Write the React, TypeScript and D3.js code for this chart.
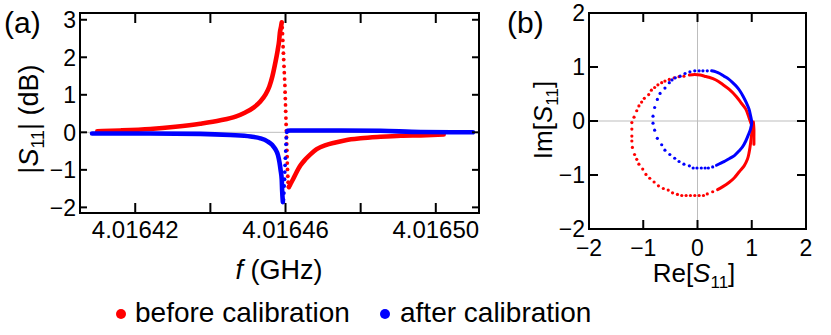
import React from 'react';
import * as d3 from 'd3';

// ---- panel (a): |S11| (dB) against f (GHz) ----
// dense part below resonance
const beforeLow: [number, number][] = [
  [4.0164099, 0.03], [4.016416, 0.05], [4.016424, 0.09], [4.0164307, 0.15],
  [4.0164373, 0.23], [4.0164427, 0.32], [4.0164467, 0.42], [4.0164493, 0.53],
  [4.0164515, 0.66], [4.0164533, 0.82], [4.0164547, 1.01], [4.0164557, 1.22],
  [4.0164565, 1.49], [4.0164573, 1.86], [4.0164579, 2.18], [4.0164583, 2.44],
  [4.0164585, 2.65], [4.0164588, 2.81], [4.016459, 2.93],
];
// sparse points across the resonance
const beforeJump: [number, number][] = [
  [4.01645912, 2.79], [4.0164592, 2.63], [4.01645928, 2.45], [4.01645936, 2.28],
  [4.01645944, 2.11], [4.01645952, 1.94], [4.0164596, 1.76], [4.01645968, 1.59],
  [4.01645976, 1.42], [4.01645984, 1.25], [4.01645989, 1.07], [4.01645995, 0.9],
  [4.01646, 0.73], [4.01646005, 0.56], [4.01646011, 0.38], [4.01646016, 0.21],
  [4.01646021, 0.04], [4.01646027, -0.13], [4.01646032, -0.31], [4.01646037, -0.48],
  [4.01646043, -0.65], [4.01646048, -0.82], [4.01646053, -0.99], [4.01646061, -1.17],
  [4.01646069, -1.33], [4.0164608, -1.45],
];
const beforeHigh: [number, number][] = [
  [4.0164609, -1.46], [4.0164613, -1.38], [4.0164619, -1.27], [4.0164627, -1.11],
  [4.016464, -0.88], [4.0164653, -0.72], [4.0164667, -0.58], [4.0164683, -0.45],
  [4.0164707, -0.34], [4.0164733, -0.27], [4.016476, -0.21], [4.01648, -0.16],
  [4.0164853, -0.12], [4.0164907, -0.09], [4.016496, -0.08], [4.0165021, -0.06],
];

const afterLow: [number, number][] = [
  [4.0164085, -0.03], [4.016424, -0.03], [4.0164373, -0.04], [4.0164453, -0.07],
  [4.0164507, -0.11], [4.0164533, -0.16], [4.0164552, -0.24], [4.0164565, -0.34],
  [4.0164573, -0.45], [4.016458, -0.61], [4.0164584, -0.8], [4.0164587, -1.01],
  [4.016459, -1.27], [4.0164591, -1.54], [4.0164593, -1.86],
];
const afterJump: [number, number][] = [
  [4.01645947, -1.8], [4.01645957, -1.62], [4.01645965, -1.43], [4.01645973, -1.25],
  [4.01645981, -1.06], [4.01645989, -0.88], [4.01645997, -0.69], [4.01646005, -0.5],
  [4.01646013, -0.32], [4.01646021, -0.15], [4.01646035, 0.0],
];
const afterHigh: [number, number][] = [
  [4.0164605, 0.04], [4.0164613, 0.05], [4.016464, 0.05], [4.0164747, 0.05],
  [4.0164853, 0.04], [4.016496, 0.01], [4.0165099, 0.0],
];

const freqTicks = [4.01642, 4.01644, 4.01646, 4.01648, 4.0165];
const freqLabels = ['4.01642', '', '4.01646', '', '4.01650'];
const dbTicks = [-2, -1, 0, 1, 2, 3];

// ---- panel (b): Im[S11] against Re[S11] ----
const beforeArc: [number, number][] = [
  [-0.15, 0.85], [-0.05, 0.86], [0.05, 0.85], [0.13, 0.83], [0.21, 0.81],
  [0.34, 0.76], [0.46, 0.68], [0.58, 0.59], [0.71, 0.46], [0.8, 0.34],
  [0.89, 0.22], [0.95, 0.06], [0.98, -0.03], [1.0, -0.09], [1.0, -0.22],
  [0.98, -0.4], [0.95, -0.59], [0.92, -0.71], [0.86, -0.83], [0.77, -0.94],
  [0.68, -1.05], [0.58, -1.14], [0.46, -1.22], [0.37, -1.27],
];
const beforeTail: [number, number][] = [
  [1.03, -0.02], [1.04, -0.15], [1.04, -0.3], [1.04, -0.43],
];
const beforeDots: [number, number][] = [
  [-0.25, 0.83], [-0.34, 0.82], [-0.43, 0.8], [-0.52, 0.77], [-0.6, 0.74],
  [-0.66, 0.71], [-0.73, 0.67], [-0.79, 0.62], [-0.85, 0.57], [-0.9, 0.49],
  [-0.98, 0.42], [-1.03, 0.35], [-1.08, 0.28], [-1.12, 0.19], [-1.17, 0.07],
  [-1.21, -0.03], [-1.21, -0.15], [-1.21, -0.28], [-1.21, -0.37], [-1.2, -0.49],
  [-1.16, -0.62], [-1.12, -0.71], [-1.08, -0.8], [-1.01, -0.89], [-0.95, -0.99],
  [-0.88, -1.06], [-0.8, -1.13], [-0.72, -1.2], [-0.63, -1.25], [-0.54, -1.28],
  [-0.46, -1.33], [-0.37, -1.36], [-0.29, -1.38], [-0.21, -1.38], [-0.13, -1.38],
  [-0.05, -1.38], [0.03, -1.38], [0.11, -1.38], [0.18, -1.35], [0.28, -1.31],
];

const afterArc: [number, number][] = [
  [0.26, 0.93], [0.34, 0.91], [0.41, 0.88], [0.49, 0.83], [0.57, 0.78],
  [0.65, 0.71], [0.72, 0.64], [0.78, 0.56], [0.84, 0.46], [0.9, 0.34],
  [0.95, 0.22], [0.98, 0.09], [1.0, -0.03], [0.98, -0.14], [0.94, -0.25],
  [0.89, -0.37], [0.83, -0.48], [0.76, -0.56], [0.68, -0.64], [0.6, -0.69],
  [0.51, -0.74], [0.43, -0.78], [0.35, -0.82],
];
const afterDots: [number, number][] = [
  [0.18, 0.93], [0.1, 0.93], [0.03, 0.93], [-0.05, 0.93], [-0.14, 0.91],
  [-0.23, 0.88], [-0.32, 0.83], [-0.41, 0.8], [-0.47, 0.76], [-0.52, 0.71],
  [-0.6, 0.61], [-0.69, 0.51], [-0.74, 0.4], [-0.79, 0.25], [-0.82, 0.09],
  [-0.82, -0.04], [-0.79, -0.17], [-0.74, -0.32], [-0.66, -0.44], [-0.6, -0.54],
  [-0.51, -0.62], [-0.42, -0.69], [-0.34, -0.75], [-0.25, -0.8], [-0.15, -0.83],
  [-0.08, -0.87], [-0.01, -0.87], [0.07, -0.87], [0.14, -0.87], [0.2, -0.87],
  [0.28, -0.85],
];

const iqTicks = [-2, -1, 0, 1, 2];

const RED = '#ff0000';
const BLUE = '#0000ff';
const FONT = '"Liberation Sans", Arial, sans-serif';

const fmt = (d: number) => (d < 0 ? '\u2212' + Math.abs(d) : String(d));

const App = () => {
  // panel (a) box
  const xA = d3.scaleLinear().domain([4.0164053, 4.0165115]).range([80, 479]);
  const yA = d3.scaleLinear().domain([-2.15, 3.18]).range([213, 13]);
  // panel (b) box
  const xB = d3.scaleLinear().domain([-2, 2]).range([589, 806]);
  const yB = d3.scaleLinear().domain([-2, 2]).range([229, 13]);

  const lineA = d3
    .line<[number, number]>()
    .x((d) => xA(d[0]))
    .y((d) => yA(d[1]))
    .curve(d3.curveMonotoneX);
  const lineB = d3
    .line<[number, number]>()
    .x((d) => xB(d[0]))
    .y((d) => yB(d[1]))
    .curve(d3.curveCatmullRom);

  const thick = (data: [number, number][], color: string, w: number, gen: any) => (
    <path d={gen(data)} fill="none" stroke={color} strokeWidth={w} strokeLinecap="round" strokeLinejoin="round" />
  );
  const dotsA = (data: [number, number][], color: string) =>
    data.map((d, i) => <circle key={i} cx={xA(d[0])} cy={yA(d[1])} r={1.9} fill={color} />);
  const dotsB = (data: [number, number][], color: string) =>
    data.map((d, i) => <circle key={i} cx={xB(d[0])} cy={yB(d[1])} r={1.6} fill={color} />);

  const [ax0, ax1] = xA.range();
  const [ay1, ay0] = yA.range();
  const [bx0, bx1] = xB.range();
  const [by1, by0] = yB.range();

  return (
    <svg
      width={831}
      height={335}
      style={{ position: 'absolute', left: 0, top: 0, background: '#fff' }}
      fontFamily={FONT}
    >
      {/* panel labels */}
      <text x={4} y={33} fontSize={30}>(a)</text>
      <text x={507} y={33} fontSize={30}>(b)</text>

      {/* ---------- panel (a) ---------- */}
      <line x1={ax0} x2={ax1} y1={yA(0)} y2={yA(0)} stroke="#bdbdbd" strokeWidth={1} />
      <g>
        {thick(beforeLow, RED, 4.6, lineA)}
        {thick(beforeHigh, RED, 4.6, lineA)}
        {dotsA(beforeJump, RED)}
        {thick(afterLow, BLUE, 4.6, lineA)}
        {thick(afterHigh, BLUE, 4.6, lineA)}
        {dotsA(afterJump, BLUE)}
      </g>
      <rect x={ax0} y={ay0} width={ax1 - ax0} height={ay1 - ay0} fill="none" stroke="#000" strokeWidth={2} />
      {freqTicks.map((t, i) => (
        <g key={i}>
          <line x1={xA(t)} x2={xA(t)} y1={ay1} y2={ay1 - 10} stroke="#000" strokeWidth={2} />
          <line x1={xA(t)} x2={xA(t)} y1={ay0} y2={ay0 + 10} stroke="#000" strokeWidth={2} />
          <text x={xA(t)} y={238} fontSize={24} textAnchor="middle">{freqLabels[i]}</text>
        </g>
      ))}
      {dbTicks.map((t) => (
        <g key={t}>
          <line x1={ax0} x2={ax0 + 7} y1={yA(t)} y2={yA(t)} stroke="#000" strokeWidth={2} />
          <line x1={ax1} x2={ax1 - 7} y1={yA(t)} y2={yA(t)} stroke="#000" strokeWidth={2} />
          <text x={76} y={yA(t)} dy="0.36em" fontSize={23} textAnchor="end">{fmt(t)}</text>
        </g>
      ))}
      <text transform="translate(38,119) rotate(-90)" fontSize={27} textAnchor="middle">
        |<tspan fontStyle="italic">S</tspan>
        <tspan fontSize={18} dy={6}>11</tspan>
        <tspan dy={-6}>| (dB)</tspan>
      </text>
      <text x={279} y={279} fontSize={27} textAnchor="middle">
        <tspan fontStyle="italic">f</tspan> (GHz)
      </text>

      {/* ---------- panel (b) ---------- */}
      <line x1={bx0} x2={bx1} y1={yB(0)} y2={yB(0)} stroke="#bdbdbd" strokeWidth={1} />
      <line x1={xB(0)} x2={xB(0)} y1={by0} y2={by1} stroke="#bdbdbd" strokeWidth={1} />
      <g>
        {thick(beforeArc, RED, 3, lineB)}
        {thick(beforeTail, RED, 3, lineB)}
        {dotsB(beforeDots, RED)}
        {thick(afterArc, BLUE, 3, lineB)}
        {dotsB(afterDots, BLUE)}
      </g>
      <rect x={bx0} y={by0} width={bx1 - bx0} height={by1 - by0} fill="none" stroke="#000" strokeWidth={2} />
      {iqTicks.map((t) => (
        <g key={t}>
          <line x1={xB(t)} x2={xB(t)} y1={by1} y2={by1 - 9} stroke="#000" strokeWidth={2} />
          <line x1={xB(t)} x2={xB(t)} y1={by0} y2={by0 + 9} stroke="#000" strokeWidth={2} />
          <line x1={bx0} x2={bx0 + 9} y1={yB(t)} y2={yB(t)} stroke="#000" strokeWidth={2} />
          <line x1={bx1} x2={bx1 - 9} y1={yB(t)} y2={yB(t)} stroke="#000" strokeWidth={2} />
          <text x={xB(t)} y={256} fontSize={23} textAnchor="middle">{fmt(t)}</text>
          <text x={585} y={yB(t)} dy="0.34em" fontSize={23} textAnchor="end">{fmt(t)}</text>
        </g>
      ))}
      <text transform="translate(552,120) rotate(-90)" fontSize={26} textAnchor="middle">
        Im[<tspan fontStyle="italic">S</tspan>
        <tspan fontSize={17} dy={6}>11</tspan>
        <tspan dy={-6}>]</tspan>
      </text>
      <text x={694} y={282} fontSize={26} textAnchor="middle">
        Re[<tspan fontStyle="italic">S</tspan>
        <tspan fontSize={17} dy={6}>11</tspan>
        <tspan dy={-6}>]</tspan>
      </text>

      {/* ---------- legend ---------- */}
      <circle cx={121} cy={314} r={5} fill={RED} />
      <text x={135} y={322} fontSize={28}>before calibration</text>
      <circle cx={385} cy={314} r={5} fill={BLUE} />
      <text x={400} y={322} fontSize={28}>after calibration</text>
    </svg>
  );
};

export default App;
